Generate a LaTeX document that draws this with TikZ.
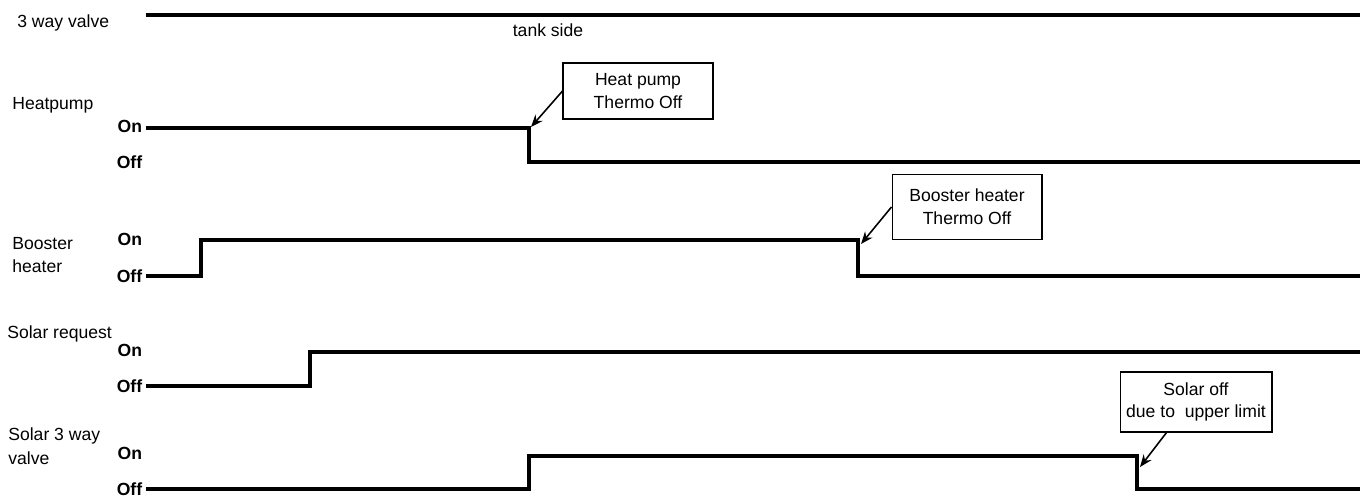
\documentclass[tikz,border=0pt]{standalone}
\usepackage{fontspec}
\setmainfont{Liberation Sans}
\usetikzlibrary{arrows.meta}

\begin{document}
\begin{tikzpicture}[x=0.02cm,y=-0.02cm,line join=miter,>={Stealth[length=7pt,width=5.5pt]},
	signal/.style={line width=2.3pt},
	note/.style={draw,line width=0.6pt,align=center,inner sep=1pt,font=\fontsize{10}{13}\selectfont},
	lvl/.style={anchor=east,font=\bfseries,inner sep=2pt},
	row/.style={anchor=base west,inner sep=0pt,align=left,font=\fontsize{10}{13.5}\selectfont}]
	\useasboundingbox (0,0) rectangle (1364,499);
	% row names
	\node[row] (rvalve) at (17,28) {3 way valve};
	\node[row] (rhp) at (12,110) {Heatpump};
	\node[row] (rbh) at (12,273) {Booster\\heater};
	\node[row] (rsr) at (7,338) {Solar request};
	\node[row] (rsv) at (8,464) {Solar 3 way\\valve};
	% on / off levels
	\node[lvl] (hpon) at (146,126) {On};
	\node[lvl] (hpoff) at (146,162) {Off};
	\node[lvl] (bhon) at (146,239) {On};
	\node[lvl] (bhoff) at (146,276) {Off};
	\node[lvl] (sron) at (146,350) {On};
	\node[lvl] (sroff) at (146,386) {Off};
	\node[lvl] (svon) at (146,453) {On};
	\node[lvl] (svoff) at (146,489) {Off};
	% signals
	\draw[signal] (146,15) -- (1360,15);
	\node[anchor=base] (tank) at (548,37) {tank side};
	\draw[signal] (146,128) -- (529,128) -- (529,162) -- (1360,162);
	\draw[signal] (146,276) -- (201,276) -- (201,240) -- (858,240) -- (858,276) -- (1360,276);
	\draw[signal] (146,386) -- (310,386) -- (310,352) -- (1360,352);
	\draw[signal] (146,489) -- (529,489) -- (529,456) -- (1137,456) -- (1137,489) -- (1360,489);
	% notes
	\node[note,minimum width=3cm,minimum height=1.12cm] (hpnote) at (638,91) {Heat pump\\Thermo Off};
	\node[note,minimum width=3cm,minimum height=1.3cm] (bhnote) at (967,207) {Booster heater\\Thermo Off};
	\node[note,minimum width=3.04cm,minimum height=1.2cm] (sonote) at (1196,402) {Solar off\\due to\ \ upper limit};
	\coordinate (hpdrop) at (531,127);
	\coordinate (bhdrop) at (861,244);
	\coordinate (sodrop) at (1140,467);
	\draw[->,line width=0.9pt] (hpnote.west) -- (hpdrop);
	\draw[->,line width=0.9pt] (bhnote.west) -- (bhdrop);
	\draw[->,line width=0.9pt] (sonote.226) -- (sodrop);
\end{tikzpicture}
\end{document}
